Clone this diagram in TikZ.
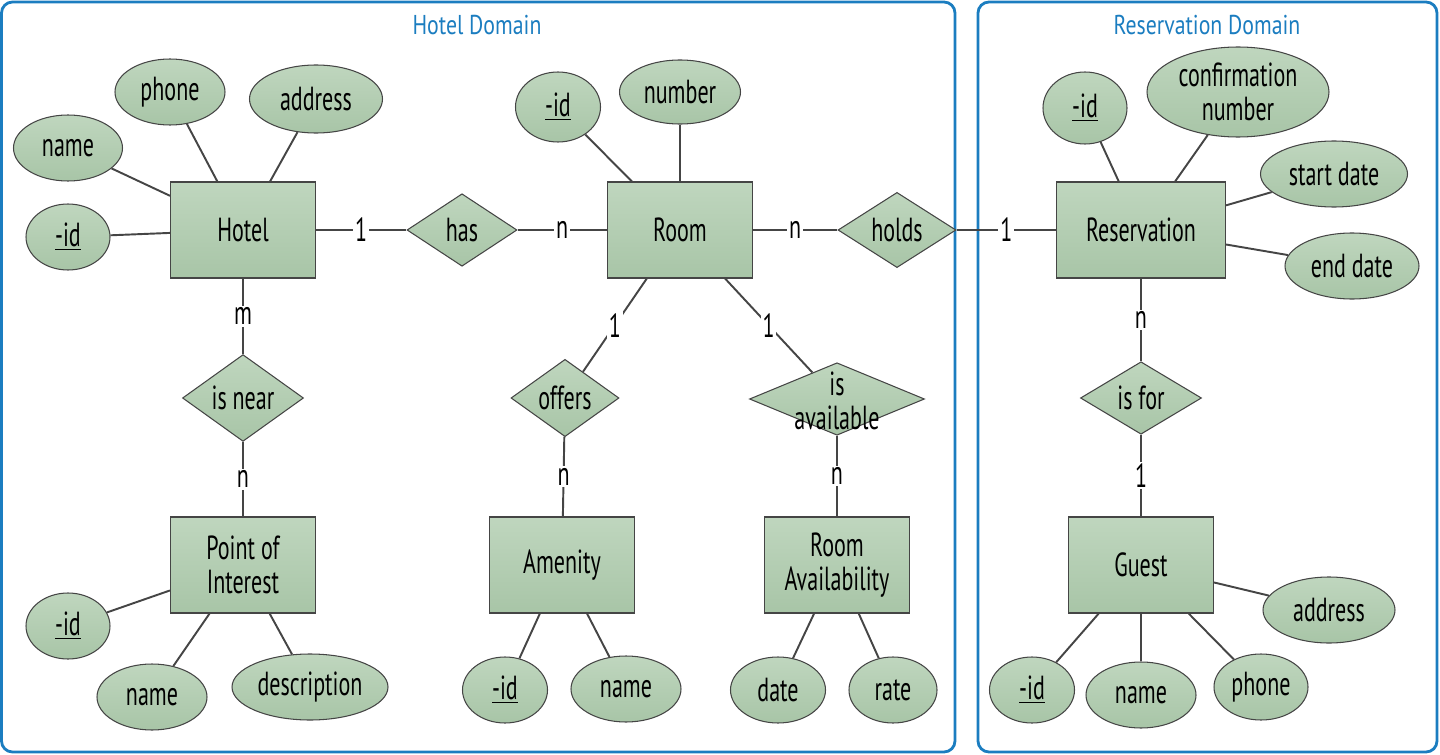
\documentclass[tikz,border=0pt]{standalone}
\usepackage{fontspec}
\setmainfont{PT Sans}[FakeStretch=0.66]
\newfontfamily\domfont{PT Sans}[FakeStretch=0.8]
\usepackage{xcolor}
\usepackage{tikz}
\usetikzlibrary{shapes.geometric}
\usetikzlibrary{positioning}

\definecolor{erfilltop}{HTML}{BFD6BE}
\definecolor{erfillbot}{HTML}{A8C5A7}
\definecolor{erline}{HTML}{454545}
\definecolor{domblue}{HTML}{1B7DC0}

\begin{document}
\begin{tikzpicture}[on grid, font=\fontsize{19}{19.5}\selectfont,
	ent/.style = {draw=erline, line width=0.6pt, rectangle, top color=erfilltop, bottom color=erfillbot, minimum width=2.9cm, minimum height=1.92cm, align=center, inner sep=0pt},
	rel/.style = {draw=erline, line width=0.6pt, diamond, top color=erfilltop, bottom color=erfillbot, minimum width=#1, minimum height=1.45cm, inner sep=0pt},
	rel/.default = 2.42cm,
	attr/.style = {draw=erline, line width=0.6pt, ellipse, top color=erfilltop, bottom color=erfillbot, minimum width=#1, minimum height=1.32cm, inner sep=0pt, align=center},
	attr/.default = 2.2cm,
	card/.style = {fill=white, inner sep=1pt},
	conn/.style = {draw=erline, line width=1.1pt},
	dom/.style = {draw=domblue, line width=1.6pt, rounded corners=0.22cm},
	domtitle/.style = {text=domblue, font=\domfont\fontsize{15.5}{17}\selectfont}]
	\useasboundingbox (0,0) rectangle (28.8,-15.1);
	
	% domains
	\draw[dom] (0.03,-0.04) rectangle (19.1,-15.04);
	\draw[dom] (19.56,-0.04) rectangle (28.74,-15.04);
	\node[domtitle] (hoteldom) at (9.54,-0.5) {Hotel Domain};
	\node[domtitle] (resvdom) at (24.14,-0.5) {Reservation Domain};
	
	% entities
	\node[ent] (hotel) at (4.86,-4.6) {Hotel};
	\node[ent] (room) [right = 8.74cm of hotel] {Room};
	\node[ent, minimum width=3.38cm] (resv) [right = 17.96cm of hotel] {Reservation};
	\node[ent] (poi) [below = 6.7cm of hotel] {Point of\\Interest};
	\node[ent] (amenity) [below left = 6.7cm and 2.36cm of room] {Amenity};
	\node[ent] (ravail) [below right = 6.7cm and 3.14cm of room] {Room\\Availability};
	\node[ent] (guest) [below = 6.7cm of resv] {Guest};
	
	% relationships
	\node[rel=2.2cm] (has) [right = 4.38cm of hotel] {has};
	\node[rel=2.36cm] (holds) [right = 4.34cm of room] {holds};
	\node[rel] (isnear) [below = 3.36cm of hotel] {is near};
	\node[rel=2.16cm] (offers) [below left = 3.36cm and 2.3cm of room] {offers};
	\node[rel=3.5cm, label={[align=center, yshift=-1pt]center:is\\available}] (isavail) [below right = 3.38cm and 3.14cm of room] {};
	\node[rel] (isfor) [below = 3.36cm of resv] {is for};
	
	% attributes
	\node[attr] (hphone) [above left = 2.76cm and 1.46cm of hotel] {phone};
	\node[attr=2.66cm, minimum height=1.36cm] (haddr) [above right = 2.62cm and 1.46cm of hotel] {address};
	\node[attr=2.18cm] (hname) [above left = 1.64cm and 3.5cm of hotel] {name};
	\node[attr=1.68cm] (hid) [below left = 0.14cm and 3.5cm of hotel] {\underline{-id}};
	\node[attr=1.7cm, minimum height=1.4cm] (rid) [above left = 2.46cm and 2.44cm of room] {\underline{-id}};
	\node[attr=2.42cm, minimum height=1.28cm] (rnumber) [above = 2.76cm of room] {number};
	\node[attr=1.68cm, minimum height=1.44cm] (resid) [above left = 2.44cm and 1.12cm of resv] {\underline{-id}};
	\node[attr=3.64cm, minimum height=1.8cm] (rconf) [above right = 2.76cm and 1.94cm of resv] {confirmation\\number};
	\node[attr=2.94cm] (rstart) [above right = 1.12cm and 3.86cm of resv] {start date};
	\node[attr=2.68cm] (rend) [below right = 0.72cm and 4.22cm of resv] {end date};
	\node[attr=1.68cm] (pid) [below left = 1.22cm and 3.5cm of poi] {\underline{-id}};
	\node[attr] (pname) [below left = 2.64cm and 1.82cm of poi] {name};
	\node[attr=3.12cm] (pdesc) [below right = 2.44cm and 1.34cm of poi] {description};
	\node[attr=1.7cm] (aid) [below left = 2.5cm and 1.14cm of amenity] {\underline{-id}};
	\node[attr] (aname) [below right = 2.48cm and 1.28cm of amenity] {name};
	\node[attr=1.9cm] (vdate) [below left = 2.5cm and 1.18cm of ravail] {date};
	\node[attr=1.76cm] (vrate) [below right = 2.5cm and 1.12cm of ravail] {rate};
	\node[attr=1.7cm] (gid) [below left = 2.5cm and 2.18cm of guest] {\underline{-id}};
	\node[attr] (gname) [below = 2.6cm of guest] {name};
	\node[attr=1.88cm] (gphone) [below right = 2.44cm and 2.4cm of guest] {phone};
	\node[attr=2.64cm] (gaddr) [below right = 0.9cm and 3.76cm of guest] {address};
	
	% relationship lines
	\draw[conn] (hotel) -- node[card] {1} (has);
	\draw[conn] (has) -- node[card] {n} (room);
	\draw[conn] (room) -- node[card] {n} (holds);
	\draw[conn] (holds) -- node[card] {1} (resv);
	\draw[conn] (hotel) -- node[card] {m} (isnear);
	\draw[conn] (isnear) -- node[card] {n} (poi);
	\draw[conn] (room) -- node[card] {1} (offers);
	\draw[conn] (offers) -- node[card] {n} (amenity);
	\draw[conn] (room) -- node[card] {1} (isavail);
	\draw[conn] (isavail) -- node[card] {n} (ravail);
	\draw[conn] (resv) -- node[card] {n} (isfor);
	\draw[conn] (isfor) -- node[card] {1} (guest);
	
	% attribute lines
	\foreach \a/\e in {hphone/hotel, haddr/hotel, hname/hotel, hid/hotel,
		rid/room, rnumber/room, resid/resv, rconf/resv, rstart/resv, rend/resv,
		pid/poi, pname/poi, pdesc/poi, aid/amenity, aname/amenity,
		vdate/ravail, vrate/ravail, gid/guest, gname/guest, gphone/guest, gaddr/guest}
		\draw[conn] (\a) -- (\e);
\end{tikzpicture}
\end{document}
